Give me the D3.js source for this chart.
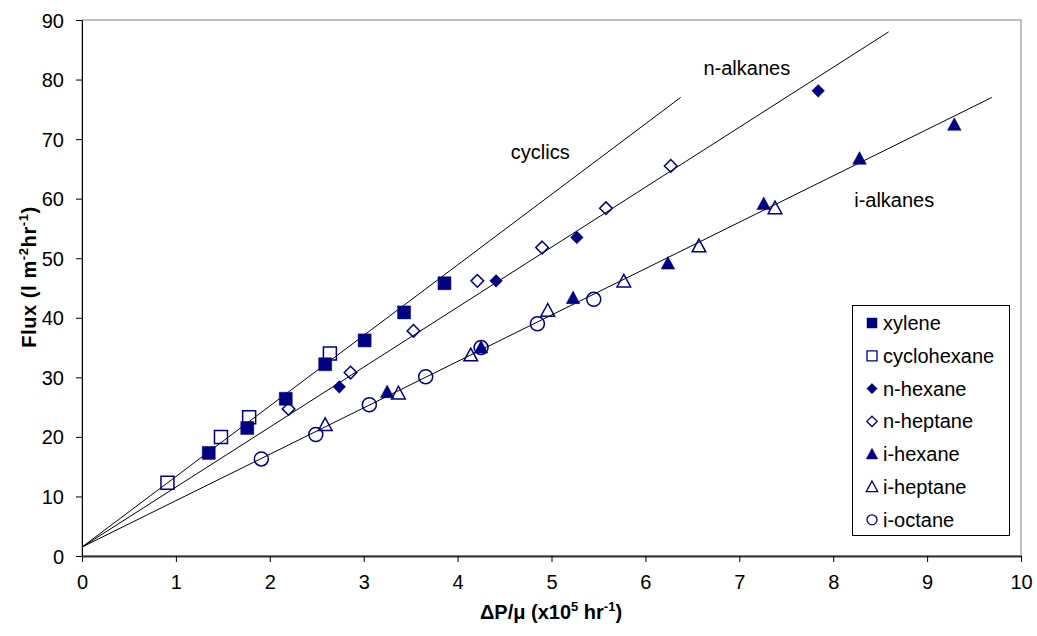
<!doctype html>
<html>
  <head>
    <meta charset="utf8">
    <script src="https://d3js.org/d3.v7.min.js"></script>
    <style type="text/css">
      body { margin: 0; background: #fff; font-family: 'Liberation Sans', Arial, sans-serif; }
    </style>
  </head>
  <body>
    <script type="text/javascript">
      const w = 1037;
      const h = 636;

      // values: [dP/mu (x1e5), flux]
      const xylene      = [[1.35, 17.3], [1.76, 21.5], [2.17, 26.4], [2.59, 32.2], [3.01, 36.2], [3.43, 40.9], [3.86, 45.8]];
      const cyclohexane = [[0.91, 12.3], [1.48, 20.0], [1.78, 23.3], [2.64, 34.0]];
      const nHexane     = [[2.74, 28.4], [4.41, 46.2], [5.27, 53.5], [7.84, 78.1]];
      const nHeptane    = [[2.20, 24.7], [2.86, 30.8], [3.53, 37.8], [4.21, 46.2], [4.90, 51.8], [5.58, 58.4], [6.27, 65.5]];
      const iHexane     = [[3.25, 27.5], [4.25, 35.0], [5.23, 43.3], [6.24, 49.1], [7.26, 59.1], [8.28, 66.7], [9.29, 72.4]];
      const iHeptane    = [[2.59, 22.0], [3.37, 27.3], [4.14, 33.7], [4.96, 41.2], [5.77, 46.1], [6.57, 52.0], [7.38, 58.4]];
      const iOctane     = [[1.91, 16.3], [2.49, 20.4], [3.06, 25.4], [3.66, 30.1], [4.25, 35.0], [4.85, 39.0], [5.45, 43.1]];

      // fitted trend lines, start and end points
      const fitNames = ['cyclics', 'n-alkanes', 'i-alkanes'];
      const fitLines = [
        [[0, 1.5], [6.375, 77.0]],
        [[0, 1.5], [8.59, 88.0]],
        [[0, 1.5], [9.69, 77.0]]
      ];
      const fitLabelPos = [[4.88, 66.7], [7.08, 80.8], [8.65, 58.6]];

      const xTicks = [0, 1, 2, 3, 4, 5, 6, 7, 8, 9, 10];
      const yTicks = [0, 10, 20, 30, 40, 50, 60, 70, 80, 90];

      const series = [
        { name: 'xylene',      data: xylene,      shape: 'square',   filled: true },
        { name: 'cyclohexane', data: cyclohexane, shape: 'square',   filled: false },
        { name: 'n-hexane',    data: nHexane,     shape: 'diamond',  filled: true },
        { name: 'n-heptane',   data: nHeptane,    shape: 'diamond',  filled: false },
        { name: 'i-hexane',    data: iHexane,     shape: 'triangle', filled: true },
        { name: 'i-heptane',   data: iHeptane,    shape: 'triangle', filled: false },
        { name: 'i-octane',    data: iOctane,     shape: 'circle',   filled: false }
      ];

      const navy = '#000080';
      const pLeft = 82, pRight = 1021, pTop = 20, pBottom = 556;

      const xScale = d3.scaleLinear().domain([0, 10]).range([pLeft, pRight]);
      const yScale = d3.scaleLinear().domain([0, 90]).range([pBottom, pTop]);

      const svg = d3.select('body')
        .append('svg')
        .attr('width', w)
        .attr('height', h);

      // plot frame
      svg.append('rect')
        .attr('x', pLeft).attr('y', pTop)
        .attr('width', pRight - pLeft).attr('height', pBottom - pTop)
        .attr('fill', 'none')
        .attr('stroke', '#808080')
        .attr('stroke-width', 1);

      // axes
      const xAxis = svg.append('g')
        .attr('transform', `translate(0,${pBottom})`)
        .call(d3.axisBottom(xScale).tickValues(xTicks).tickSize(6).tickPadding(10).tickSizeOuter(0));
      const yAxis = svg.append('g')
        .attr('transform', `translate(${pLeft},0)`)
        .call(d3.axisLeft(yScale).tickValues(yTicks).tickSize(6).tickPadding(12).tickSizeOuter(0));

      [xAxis, yAxis].forEach((g) => {
        g.selectAll('text')
          .attr('font-family', "'Liberation Sans', Arial, sans-serif")
          .attr('font-size', '20px')
          .attr('fill', '#000');
        g.selectAll('line').attr('stroke', '#000');
      });
      xAxis.select('.domain').attr('stroke', '#333').attr('stroke-width', 2);
      yAxis.select('.domain').attr('stroke', '#000').attr('stroke-width', 1);
      yAxis.selectAll('text').attr('dy', '0.35em');
      xAxis.selectAll('text').attr('dy', '0.85em');

      // trend lines
      const line = d3.line().x((d) => xScale(d[0])).y((d) => yScale(d[1]));
      svg.selectAll('path.fit')
        .data(fitLines)
        .enter()
        .append('path')
        .attr('class', 'fit')
        .attr('d', line)
        .attr('fill', 'none')
        .attr('stroke', '#000')
        .attr('stroke-width', 1);

      svg.selectAll('text.fitlabel')
        .data(fitNames)
        .enter()
        .append('text')
        .attr('class', 'fitlabel')
        .attr('x', (d, i) => xScale(fitLabelPos[i][0]))
        .attr('y', (d, i) => yScale(fitLabelPos[i][1]))
        .attr('text-anchor', 'middle')
        .attr('font-size', '20px')
        .text((d) => d);

      // marker paths
      function markerPath(shape, s) {
        const r = s / 2;
        if (shape === 'square') return `M${-r},${-r}h${s}v${s}h${-s}Z`;
        if (shape === 'diamond') return `M0,${-r * 1.15}L${r * 1.15},0L0,${r * 1.15}L${-r * 1.15},0Z`;
        if (shape === 'triangle') return `M0,${-r * 1.1}L${r * 1.05},${r * 0.85}L${-r * 1.05},${r * 0.85}Z`;
        return d3.arc()({ innerRadius: 0, outerRadius: r, startAngle: 0, endAngle: 2 * Math.PI });
      }
      const markerSize = { square: 13, diamond: 11, triangle: 13, circle: 14 };
      const legendSize = { square: 10, diamond: 9, triangle: 11, circle: 10 };

      series.forEach((s) => {
        svg.append('g')
          .selectAll('path')
          .data(s.data)
          .enter()
          .append('path')
          .attr('transform', (d) => `translate(${xScale(d[0])},${yScale(d[1])})`)
          .attr('d', markerPath(s.shape, markerSize[s.shape]))
          .attr('fill', s.filled ? navy : 'none')
          .attr('stroke', navy)
          .attr('stroke-width', s.filled ? 0.5 : 1.5);
      });

      // legend
      const lg = svg.append('g');
      lg.append('rect')
        .attr('x', 852.5).attr('y', 305.5)
        .attr('width', 157).attr('height', 230)
        .attr('fill', '#fff')
        .attr('stroke', '#000')
        .attr('stroke-width', 1);

      const rows = lg.selectAll('g.row')
        .data(series)
        .enter()
        .append('g')
        .attr('class', 'row')
        .attr('transform', (d, i) => `translate(872,${323 + i * 32.8})`);
      rows.append('path')
        .attr('d', (d) => markerPath(d.shape, legendSize[d.shape]))
        .attr('fill', (d) => d.filled ? navy : 'none')
        .attr('stroke', navy)
        .attr('stroke-width', (d) => d.filled ? 0.5 : 1.3);
      rows.append('text')
        .attr('x', 11)
        .attr('dy', '0.35em')
        .attr('font-size', '20px')
        .text((d) => d.name);

      // axis titles
      const xt = svg.append('text')
        .attr('x', 551).attr('y', 619)
        .attr('text-anchor', 'middle')
        .attr('font-size', '20px')
        .attr('font-weight', 'bold');
      xt.append('tspan').text('\u0394P/\u03bc (x10');
      xt.append('tspan').attr('dy', '-8').attr('font-size', '13px').text('5');
      xt.append('tspan').attr('dy', '8').text(' hr');
      xt.append('tspan').attr('dy', '-8').attr('font-size', '13px').text('-1');
      xt.append('tspan').attr('dy', '8').text(')');

      const yt = svg.append('text')
        .attr('transform', 'translate(36,277) rotate(-90)')
        .attr('text-anchor', 'middle')
        .attr('font-size', '20px')
        .attr('font-weight', 'bold')
        .attr('letter-spacing', '0.6px');
      yt.append('tspan').text('Flux (l m');
      yt.append('tspan').attr('dy', '-8').attr('font-size', '13px').text('-2');
      yt.append('tspan').attr('dy', '8').text('hr');
      yt.append('tspan').attr('dy', '-8').attr('font-size', '13px').text('-1');
      yt.append('tspan').attr('dy', '8').text(')');
    </script>
  </body>
</html>
